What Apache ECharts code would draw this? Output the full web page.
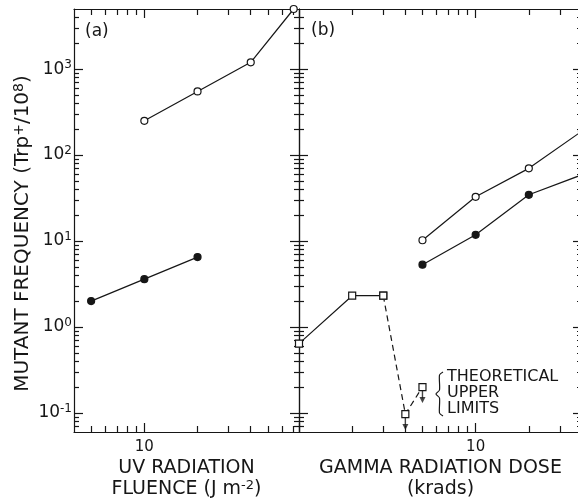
<!DOCTYPE html>
<html>
<head>
<meta charset="utf-8">
<script src="https://cdn.jsdelivr.net/npm/echarts@6/dist/echarts.min.js"></script>
<style>html,body{margin:0;background:#fff}#chart{width:578px;height:502px}</style>
</head>
<body>
<div id="chart"></div>
<script>
// panel (a): UV radiation fluence (J m-2) vs mutant frequency
const uvDoseOpen = [10, 20, 40, 70];
const uvFreqOpen = [250, 550, 1200, 5000];
const uvDoseFilled = [5, 10, 20];
const uvFreqFilled = [2.0, 3.6, 6.5];

// panel (b): gamma radiation dose (krads)
const gammaDose = [5, 10, 20, 40];
const gammaFreqOpen = [10.2, 32.7, 70, 190];
const gammaFreqFilled = [5.3, 11.8, 34.5, 59];
const squareDose = [1, 2, 3];
const squareFreq = [0.64, 2.31, 2.31];
const limitDose = [3, 4, 5];
const limitFreq = [2.31, 0.097, 0.2];
const arrowDose = [4, 5];
const arrowFreq = [0.097, 0.2];

// axes
const yRange = [0.06, 5000];
const uvRange = [4, 75];
const gammaRange = [1, 40];
const yMajor = [0.1, 1, 10, 100, 1000];
const uvMajor = [10];
const gammaMajor = [1, 10];
const xLabelVals = [10];

const ink = '#161616';
const font = 'DejaVu Sans';

function minors(range) {
  const out = [];
  for (let e = -3; e <= 4; e++) {
    for (let k = 2; k <= 9; k++) {
      const v = +(k * Math.pow(10, e)).toPrecision(6);
      if (v > range[0] && v < range[1]) out.push(v);
    }
  }
  return out;
}
const pairs = (xs, ys) => xs.map((x, i) => [x, ys[i]]);

function sideAxis(grid, pos, range, ticks, len, showLine) {
  return {
    type: 'log', logBase: 10, gridIndex: grid, position: pos,
    min: range[0], max: range[1],
    axisLine: { show: showLine, onZero: false, lineStyle: { color: ink, width: 1.2 } },
    axisTick: { show: true, inside: true, length: len, customValues: ticks,
      lineStyle: { color: ink, width: 1.2 } },
    axisLabel: { show: false },
    splitLine: { show: false },
    nameMoveOverlap: false
  };
}

const xAxes = [];
const yAxes = [];
[[uvRange, uvMajor], [gammaRange, gammaMajor]].forEach(([range, major], g) => {
  ['bottom', 'top'].forEach(pos => {
    xAxes.push(sideAxis(g, pos, range, major, 9, true));
    xAxes.push(sideAxis(g, pos, range, minors(range), 6, false));
  });
  ['left', 'right'].forEach(pos => {
    yAxes.push(sideAxis(g, pos, yRange, yMajor, 9, true));
    yAxes.push(sideAxis(g, pos, yRange, minors(yRange), 5, false));
  });
});

// tick labels and names
const xLabel = {
  show: true, customValues: xLabelVals, margin: 8,
  color: ink, fontFamily: font, fontSize: 15
};
const supStyle = { fontSize: 13, lineHeight: 13, verticalAlign: 'top', fontFamily: font, color: ink };
const nameStyle = {
  color: ink, fontFamily: font, fontSize: 19, lineHeight: 21,
  rich: { s: supStyle }
};
Object.assign(xAxes[0], {
  axisLabel: xLabel, name: 'UV RADIATION\nFLUENCE (J m{s|-2})',
  nameLocation: 'middle', nameGap: 26, nameTextStyle: nameStyle
});
Object.assign(xAxes[4], {
  axisLabel: xLabel, name: 'GAMMA RADIATION DOSE\n(krads)',
  nameLocation: 'middle', nameGap: 26, nameTextStyle: nameStyle
});
Object.assign(yAxes[0], {
  axisLabel: {
    show: true, customValues: yMajor, margin: 2,
    formatter: v => '{b|10}{s|' + Math.round(Math.log10(v)) + '}',
    rich: {
      b: { fontSize: 17, lineHeight: 20, fontFamily: font, color: ink },
      s: { fontSize: 12, lineHeight: 12, verticalAlign: 'top', fontFamily: font, color: ink }
    }
  },
  name: 'MUTANT FREQUENCY (Trp{s|+}/10{s|8})',
  nameLocation: 'middle', nameGap: 40,
  nameTextStyle: {
    color: ink, fontFamily: font, fontSize: 20, lineHeight: 22,
    padding: [0, 26, 0, 0],
    rich: { s: { fontSize: 14, lineHeight: 14, verticalAlign: 'top', fontFamily: font, color: ink } }
  }
});

const lineBase = (data, x, y, extra) => Object.assign({
  type: 'line', data: data, xAxisIndex: x, yAxisIndex: y,
  clip: false, symbolSize: 7,
  lineStyle: { color: ink, width: 1.2 },
  itemStyle: { color: ink, borderColor: ink, borderWidth: 1.2 }
}, extra);
const hollow = { color: '#fff', borderColor: ink, borderWidth: 1.2 };
const arrowPart = (symbol, size, offset, rotate) => ({
  type: 'scatter', data: pairs(arrowDose, arrowFreq), xAxisIndex: 4, yAxisIndex: 4,
  symbol: symbol, symbolSize: size, symbolOffset: offset, symbolRotate: rotate,
  itemStyle: { color: ink, borderWidth: 0 }, clip: false, z: 5, silent: true
});

const chart = echarts.init(document.getElementById('chart'), null, { renderer: 'canvas' });
chart.setOption({
  animation: false,
  backgroundColor: '#fff',
  grid: [
    { left: 74, top: 9, width: 225, height: 423, outerBoundsMode: 'none' },
    { left: 299, top: 9, width: 283, height: 423, outerBoundsMode: 'none' }
  ],
  xAxis: xAxes,
  yAxis: yAxes,
  series: [
    lineBase(pairs(uvDoseOpen, uvFreqOpen), 0, 0, { symbol: 'circle', itemStyle: hollow }),
    lineBase(pairs(uvDoseFilled, uvFreqFilled), 0, 0, { symbol: 'circle' }),
    lineBase(pairs(gammaDose, gammaFreqOpen), 4, 4, { symbol: 'circle', itemStyle: hollow }),
    lineBase(pairs(gammaDose, gammaFreqFilled), 4, 4, { symbol: 'circle' }),
    lineBase(pairs(squareDose, squareFreq), 4, 4, { symbol: 'rect', itemStyle: hollow }),
    lineBase(pairs(limitDose, limitFreq), 4, 4, {
      symbol: 'rect', itemStyle: hollow,
      lineStyle: { color: ink, width: 1.2, type: [6, 4] }
    }),
    arrowPart('rect', [1.4, 8], [0, 7.5], 0),
    arrowPart('triangle', [6, 6], [0, 13], 180)
  ],
  graphic: [
    { type: 'text', left: 85, top: 23,
      style: { text: '(a)', font: '17px "DejaVu Sans"', fill: ink } },
    { type: 'text', left: 311, top: 22,
      style: { text: '(b)', font: '17px "DejaVu Sans"', fill: ink } },
    { type: 'text', left: 447, top: 369,
      style: { text: 'THEORETICAL\nUPPER\nLIMITS', font: '16px "DejaVu Sans"',
        lineHeight: 16, fill: ink } },
    { type: 'polyline',
      shape: { points: [[443, 372], [439.5, 375], [439.5, 390], [436, 394], [439.5, 398], [439.5, 413], [443, 416]], smooth: 0.25 },
      style: { fill: 'none', stroke: ink, lineWidth: 1.2 } }
  ]
});
</script>
</body>
</html>
